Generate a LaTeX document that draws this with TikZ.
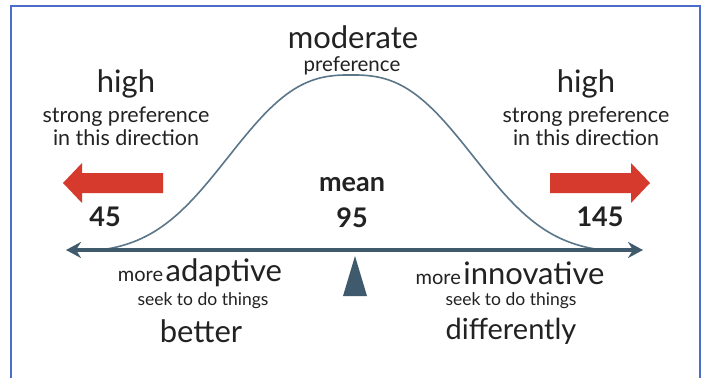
\documentclass[tikz,border=0pt]{standalone}
\usepackage{fontspec}
\setmainfont{Lato}
\usetikzlibrary{arrows.meta}
\definecolor{frameblue}{HTML}{4A6CCB}
\definecolor{axisslate}{HTML}{3E5A6C}
\definecolor{curveslate}{HTML}{5A7688}
\definecolor{arrowred}{HTML}{D63A2C}
\definecolor{ink}{HTML}{222222}
\tikzset{
  lbl/.style={text=ink, inner sep=0pt, anchor=center},
  big/.style={lbl, font=\fontsize{31}{33}\selectfont},
  small/.style={lbl, font=\fontsize{21.5}{23}\selectfont},
  smaller/.style={lbl, font=\fontsize{17.5}{19}\selectfont},
  num/.style={lbl, font=\bfseries\fontsize{27}{29}\selectfont},
  redarrow/.style={fill=arrowred, draw=none},
}
\begin{document}
\begin{tikzpicture}[x=1pt, y=-1pt]
\useasboundingbox (0,0) rectangle (705,378);
\fill[white] (0,0) rectangle (705,378);

% open frame
\draw[frameblue, line width=1.5pt] (11,378) -- (11,6) -- (700,6) -- (700,378);

% titles above
\node[big]   (moderate) at (353,37)  {moderate};
\node[lbl, font=\fontsize{20.5}{22}\selectfont] (modpref) at (352,66) {preference};

\node[big]   (highL) at (126,84)  {high};
\node[small] (strL)  at (126,117) {strong preference};
\node[small] (dirL)  at (126,138) {in this direction};

\node[big]   (highR) at (586,84)  {high};
\node[small] (strR)  at (586,117) {strong preference};
\node[small] (dirR)  at (586,138) {in this direction};

% red direction arrows
\fill[redarrow] (163,173) -- (82,173) -- (82,163) -- (63,183) -- (82,203) -- (82,193) -- (163,193) -- cycle;
\fill[redarrow] (550,173) -- (631,173) -- (631,163) -- (650,183) -- (631,203) -- (631,193) -- (550,193) -- cycle;

% scale values
\node[num] (mean) at (352,185) {mean};
\node[num] (v95)  at (352,218) {95};
\node[num] (v45)  at (105,217) {45};
\node[num] (v145) at (600,217) {145};

% distribution curve, shifted so its tails meet the axis
\draw[curveslate, line width=1.6pt, line join=round]
  plot[domain=-249:249, samples=161, smooth]
  ({351+\x},{250-178.6*(exp(-(abs(\x)/148)^2.6)-0.02)});

% axis with tips at both ends
\coordinate (axL) at (66,250);
\coordinate (axR) at (643,250);
\draw[axisslate, line width=3.5pt,
      {Stealth[length=15pt,width=16pt,inset=5pt]}-{Stealth[length=15pt,width=16pt,inset=5pt]}]
  (axL) -- (axR);

% pivot
\fill[axisslate] (355,256) -- (367,296) -- (343,296) -- cycle;

% labels below the axis
\node[lbl] (adaptive) at (200,273)
  {{\fontsize{20}{22}\selectfont more} {\fontsize{31}{33}\selectfont adaptive}};
\node[smaller] (seekL) at (203,301) {seek to do things};
\node[big]   (better) at (201,331) {better};

\node[lbl] (innovative) at (510,273)
  {{\fontsize{20}{22}\selectfont more} {\fontsize{31}{33}\selectfont innovative}};
\node[smaller] (seekR) at (511,301) {seek to do things};
\node[lbl, font=\fontsize{29}{31}\selectfont] (differently) at (511,331) {differently};
\end{tikzpicture}
\end{document}
